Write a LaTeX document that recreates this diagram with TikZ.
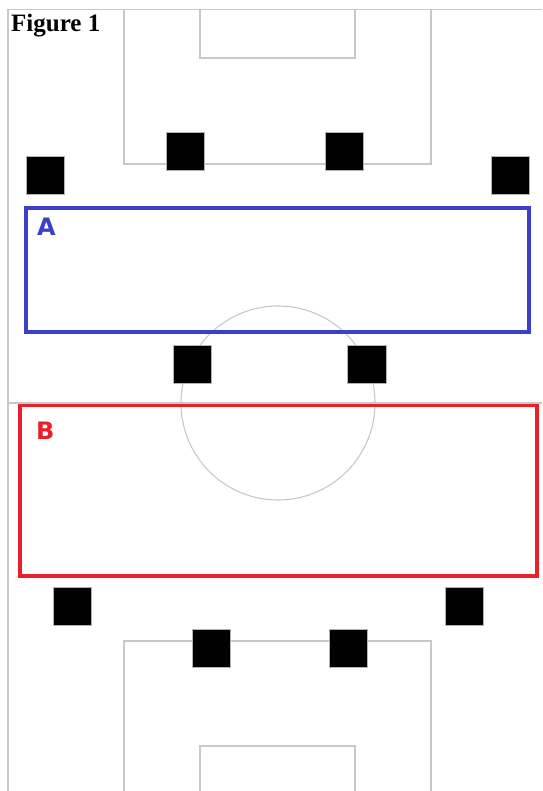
\documentclass[tikz,border=0pt]{standalone}
\usepackage{fontspec}
\setmainfont{Liberation Serif}
\newfontfamily\labelfont{DejaVu Sans}
\definecolor{fieldgray}{HTML}{C8C8C8}
\definecolor{boxblue}{HTML}{3A40C8}
\definecolor{boxred}{HTML}{E8202A}
\begin{document}
\begin{tikzpicture}[x=1pt,y=-1pt,
  fieldline/.style={draw=fieldgray,line width=1.1pt},
  player/.style={fill=black,draw=gray!60,line width=0.5pt},
  zone/.style={line width=3.2pt},
  zonelabel/.style={font=\labelfont\bfseries\fontsize{24}{24}\selectfont,anchor=north west,inner sep=0pt}]
\useasboundingbox (0,0) rectangle (542,791);
% field
\draw[fieldline] (8,791) -- (8,9.5) -- (542,9.5);
\draw[fieldline] (8,403) -- (542,403);
\draw[fieldline] (124,9.5) rectangle (431,164);
\draw[fieldline] (200,9.5) rectangle (355,58);
\draw[fieldline] (124,791) -- (124,641) -- (431,641) -- (431,791);
\draw[fieldline] (200,791) -- (200,746) -- (355,746) -- (355,791);
\draw[fieldline] (278,403) circle (97);
% zones
\draw[zone,draw=boxblue] (26,208) rectangle (529,332);
\draw[zone,draw=boxred] (20,405.5) rectangle (537,576);
\node[zonelabel,text=boxblue] (la) at (37,218) {A};
\node[zonelabel,text=boxred] (lb) at (36,422) {B};
% players
\draw[player] (26,156) rectangle (64,194);
\draw[player] (166,132) rectangle (204,170);
\draw[player] (325,132) rectangle (363,170);
\draw[player] (491,156) rectangle (529,194);
\draw[player] (173,345) rectangle (211,383);
\draw[player] (347.5,345) rectangle (386,383);
\draw[player] (53,587) rectangle (91,625);
\draw[player] (445,587) rectangle (483,625);
\draw[player] (192,629) rectangle (230,667);
\draw[player] (329,629) rectangle (367,667);
% title
\node[anchor=north west,inner sep=0pt,font=\bfseries\fontsize{25}{25}\selectfont] (title) at (11,14) {Figure 1};
\end{tikzpicture}
\end{document}
